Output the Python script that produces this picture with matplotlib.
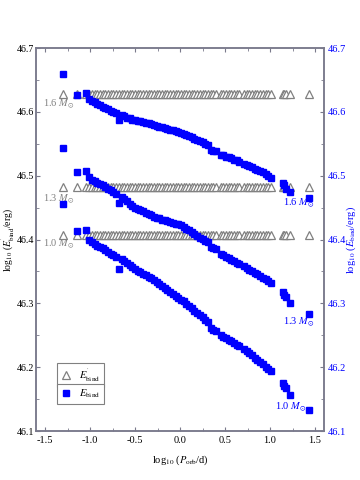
import numpy as np
import matplotlib.pyplot as plt
from matplotlib.ticker import MultipleLocator

plt.rcParams['font.family'] = ['Liberation Serif', 'DejaVu Serif']
plt.rcParams['mathtext.fontset'] = 'stix'

# -----------------------------
# Data
# -----------------------------
log_porb = [-1.30, -1.14,
            -1.04, -1.01, -0.98, -0.95, -0.92, -0.89, -0.86, -0.83, -0.80, -0.77,
            -0.74, -0.71, -0.68, -0.65, -0.62, -0.59, -0.56, -0.53, -0.50, -0.47,
            -0.44, -0.41, -0.38, -0.35, -0.32, -0.29, -0.26, -0.23, -0.20, -0.17,
            -0.14, -0.11, -0.08, -0.05, -0.02, 0.01, 0.04, 0.07, 0.10, 0.13,
            0.16, 0.19, 0.22, 0.25, 0.28, 0.31, 0.34, 0.37, 0.40,
            0.45, 0.48, 0.51, 0.54, 0.57, 0.60, 0.63, 0.66,
            0.71, 0.74, 0.77, 0.80, 0.83, 0.86, 0.89, 0.92, 0.95, 0.98, 1.01,
            1.14, 1.16, 1.18, 1.22, 1.43]

# E_bind (squares, right axis)
ebind_16 = [46.659, 46.627,
            46.630, 46.620, 46.617, 46.615, 46.612, 46.610, 46.608, 46.606, 46.604, 46.602,
            46.600, 46.598, 46.588, 46.595, 46.593, 46.591, 46.590, 46.588, 46.587, 46.586,
            46.585, 46.584, 46.583, 46.582, 46.581, 46.579, 46.578, 46.577, 46.576, 46.575,
            46.573, 46.572, 46.571, 46.570, 46.568, 46.567, 46.565, 46.564, 46.562, 46.560,
            46.558, 46.556, 46.554, 46.552, 46.550, 46.548, 46.540, 46.539, 46.538,
            46.533, 46.532, 46.530, 46.529, 46.527, 46.525, 46.524, 46.522,
            46.519, 46.517, 46.515, 46.513, 46.511, 46.509, 46.507, 46.505, 46.503, 46.500, 46.497,
            46.488, 46.486, 46.479, 46.474, 46.465]

ebind_13 = [46.543, 46.506,
            46.508, 46.498, 46.494, 46.491, 46.488, 46.487, 46.485, 46.482, 46.479, 46.477,
            46.474, 46.471, 46.457, 46.466, 46.463, 46.460, 46.456, 46.453, 46.450, 46.448,
            46.446, 46.444, 46.442, 46.440, 46.438, 46.436, 46.434, 46.433, 46.431, 46.430,
            46.429, 46.427, 46.426, 46.425, 46.424, 46.422, 46.420, 46.417, 46.415, 46.412,
            46.409, 46.406, 46.403, 46.401, 46.398, 46.396, 46.388, 46.387, 46.385,
            46.377, 46.375, 46.373, 46.371, 46.368, 46.366, 46.364, 46.362,
            46.358, 46.356, 46.353, 46.351, 46.348, 46.346, 46.343, 46.340, 46.338, 46.335, 46.332,
            46.318, 46.313, 46.310, 46.300, 46.283]

ebind_10 = [46.456, 46.413,
            46.415, 46.400, 46.396, 46.393, 46.390, 46.388, 46.386, 46.383, 46.380, 46.377,
            46.375, 46.373, 46.354, 46.369, 46.366, 46.363, 46.360, 46.357, 46.354, 46.351,
            46.349, 46.346, 46.344, 46.341, 46.339, 46.336, 46.333, 46.330, 46.327, 46.324,
            46.321, 46.318, 46.315, 46.312, 46.309, 46.306, 46.303, 46.299, 46.296, 46.292,
            46.288, 46.285, 46.281, 46.278, 46.274, 46.271, 46.261, 46.259, 46.257,
            46.250, 46.248, 46.246, 46.243, 46.241, 46.238, 46.235, 46.233,
            46.228, 46.225, 46.222, 46.219, 46.215, 46.212, 46.208, 46.205, 46.201, 46.197, 46.194,
            46.176, 46.171, 46.168, 46.156, 46.133]

# E'_bind (triangles, left axis) - constant per mass
ebind_prime = {"1.6": 46.628, "1.3": 46.482, "1.0": 46.407}

GREY = "#808080"
BLUE = "#0000ff"
SPINE = "#7a7a8c"


def main():
    fig = plt.figure(figsize=(3.6, 4.8), dpi=100)
    ax1 = fig.add_axes([0.1, 0.102, 0.8, 0.798])
    ax2 = ax1.twinx()

    x = np.array(log_porb)
    for key, val in ebind_prime.items():
        ax1.plot(x, np.full_like(x, val), ls="none", marker="^", ms=5.5,
                 mfc="white", mec=GREY, mew=0.9)
    for ys in (ebind_16, ebind_13, ebind_10):
        ax2.plot(x, ys, ls="none", marker="s", ms=3.8, color=BLUE, mec=BLUE)

    for ax in (ax1, ax2):
        ax.set_xlim(-1.6, 1.6)
        ax.set_ylim(46.1, 46.7)
        ax.yaxis.set_major_locator(MultipleLocator(0.1))
        ax.yaxis.set_minor_locator(MultipleLocator(0.05))

    ax1.xaxis.set_major_locator(MultipleLocator(0.5))
    ax1.xaxis.set_minor_locator(MultipleLocator(0.25))
    ax1.tick_params(axis="x", which="both", direction="in", top=True,
                    labelsize=7.5, colors="black")
    ax1.tick_params(axis="x", which="major", length=3, color=SPINE)
    ax1.tick_params(axis="x", which="minor", length=2, color=SPINE)
    ax1.tick_params(axis="y", which="major", direction="in", length=3,
                    labelsize=7.2, color=SPINE, pad=1.5)
    ax1.tick_params(axis="y", which="minor", direction="in", length=2, color=SPINE)
    ax2.tick_params(axis="y", which="major", direction="in", length=3,
                    labelsize=7.5, color=SPINE, labelcolor=BLUE, pad=2.5)
    ax2.tick_params(axis="y", which="minor", direction="in", length=2, color=SPINE)
    ax1.xaxis.set_major_formatter(plt.FuncFormatter(lambda v, p: f"{v:.1f}"))

    for ax in (ax1, ax2):
        for s in ax.spines.values():
            s.set_color(SPINE)
            s.set_linewidth(1.1)

    ax1.set_xlabel(r"log$_{10}$ ($P_{\rm orb}$/d)", fontsize=7.5, labelpad=6)
    ax1.set_ylabel(r"log$_{10}$ ($E^{'}_{\rm bind}$/erg)", fontsize=7)
    ax2.set_ylabel(r"log$_{10}$ ($E_{\rm bind}$/erg)", fontsize=7.5, color=BLUE)
    ax1.yaxis.set_label_coords(-0.066, 0.5)
    ax2.yaxis.set_label_coords(1.072, 0.5)

    # mass labels
    ax1.text(-1.52, 46.612, r"1.6 $M_{\odot}$", color=GREY, fontsize=7.5, va="center")
    ax1.text(-1.52, 46.463, r"1.3 $M_{\odot}$", color=GREY, fontsize=7.5, va="center")
    ax1.text(-1.52, 46.393, r"1.0 $M_{\odot}$", color=GREY, fontsize=7.5, va="center")
    ax2.text(1.14, 46.457, r"1.6 $M_{\odot}$", color=BLUE, fontsize=7.5, va="center")
    ax2.text(1.14, 46.270, r"1.3 $M_{\odot}$", color=BLUE, fontsize=7.5, va="center")
    ax2.text(1.06, 46.137, r"1.0 $M_{\odot}$", color=BLUE, fontsize=7.5, va="center")

    # two separate legend boxes
    h1 = ax1.plot([], [], ls="none", marker="^", ms=5.5, mfc="white", mec=GREY, mew=0.9)[0]
    h2 = ax2.plot([], [], ls="none", marker="s", ms=3.8, color=BLUE)[0]
    leg1 = ax1.legend([h1], [r"$E^{'}_{\rm bind}$"], loc="upper left",
                      bbox_to_anchor=(0.055, 0.192), fontsize=7.5, fancybox=False,
                      edgecolor=GREY, handlelength=1.0, handletextpad=0.8,
                      borderpad=0.35, framealpha=1)
    leg1.get_frame().set_linewidth(0.8)
    leg2 = ax2.legend([h2], [r"$E_{\rm bind}$"], loc="upper left",
                      bbox_to_anchor=(0.055, 0.137), fontsize=7.5, fancybox=False,
                      edgecolor=GREY, handlelength=1.0, handletextpad=0.8,
                      borderpad=0.35, framealpha=1)
    leg2.get_frame().set_linewidth(0.8)

    fig.savefig("out.png", dpi=100)
    plt.close(fig)


if __name__ == "__main__":
    main()
